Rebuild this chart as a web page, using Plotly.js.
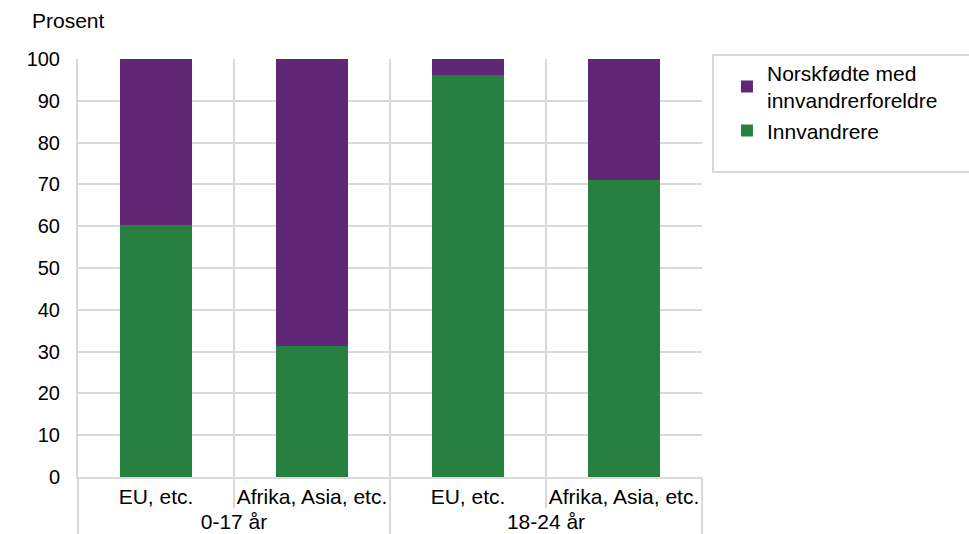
<!DOCTYPE html>
<html>
<head>
<meta charset="utf-8">
<script src="https://cdn.plot.ly/plotly-3.0.1.min.js"></script>
<style>html,body{margin:0;padding:0;background:#fff;}#chart{width:969px;height:534px;}</style>
</head>
<body>
<div id="chart"></div>
<script>
// Data
const ageGroups = ['0-17 år', '0-17 år', '18-24 år', '18-24 år'];
const origins = ['EU, etc.', 'Afrika, Asia, etc.', 'EU, etc.', 'Afrika, Asia, etc.'];
const innvandrere = [60.3, 31.3, 96.2, 71.0];
const norskfodte = [39.7, 68.7, 3.8, 29.0];
const seriesNames = ['Innvandrere', 'Norskfødte med<br>innvandrerforeldre'];
const yTicks = [0, 10, 20, 30, 40, 50, 60, 70, 80, 90, 100];

const FONT = '"Liberation Sans", Arial, sans-serif';
const GRID = '#d9d9d9';

const traces = [
  {type: 'bar', name: seriesNames[0], x: [ageGroups, origins], y: innvandrere,
   marker: {color: '#27803f', line: {width: 0}}, hoverinfo: 'y'},
  {type: 'bar', name: seriesNames[1], x: [ageGroups, origins], y: norskfodte,
   marker: {color: '#5f2775', line: {width: 0}}, hoverinfo: 'y'}
];

const layout = {
  width: 969, height: 534,
  margin: {l: 78, r: 267, t: 59, b: 57, autoexpand: false},
  paper_bgcolor: '#fff', plot_bgcolor: '#fff',
  font: {family: FONT, size: 20, color: '#000'},
  barmode: 'stack',
  bargap: 0.535,
  xaxis: {
    type: 'multicategory',
    tickson: 'boundaries',
    tickangle: 0,
    showgrid: true, gridcolor: GRID, gridwidth: 2,
    ticks: 'outside', ticklen: 29, tickcolor: GRID, tickwidth: 2,
    showdividers: true, dividercolor: GRID, dividerwidth: 2,
    showline: true, linecolor: GRID, linewidth: 2,
    tickfont: {family: FONT, size: 21, color: '#000'},
    automargin: false, fixedrange: true
  },
  yaxis: {
    range: [0, 100], tickvals: yTicks, ticktext: yTicks.map(String),
    showgrid: true, gridcolor: GRID, gridwidth: 2,
    zeroline: false, showline: true, linecolor: GRID, linewidth: 2,
    ticks: '', ticklabelstandoff: 12,
    tickfont: {family: FONT, size: 20, color: '#000'},
    automargin: false, fixedrange: true
  },
  legend: {
    x: 1.040, xref: 'paper', xanchor: 'left',
    y: 1.015, yanchor: 'top',
    traceorder: 'reversed',
    bgcolor: 'rgba(0,0,0,0)', borderwidth: 0,
    font: {family: FONT, size: 21, color: '#000'},
    itemclick: false, itemdoubleclick: false
  },
  annotations: [{
    text: 'Prosent', xref: 'paper', yref: 'paper',
    x: -0.077, xanchor: 'left', y: 1.093, yanchor: 'middle',
    showarrow: false, font: {family: FONT, size: 21, color: '#000'}
  }],
  shapes: [{
    type: 'rect', xref: 'paper', yref: 'paper',
    x0: 1.0176, x1: 1.44, y0: 0.7297, y1: 1.0096,
    line: {color: GRID, width: 2}, fillcolor: 'rgba(0,0,0,0)', layer: 'below'
  }]
};

Plotly.newPlot('chart', traces, layout, {displayModeBar: false, staticPlot: true});
</script>
</body>
</html>
